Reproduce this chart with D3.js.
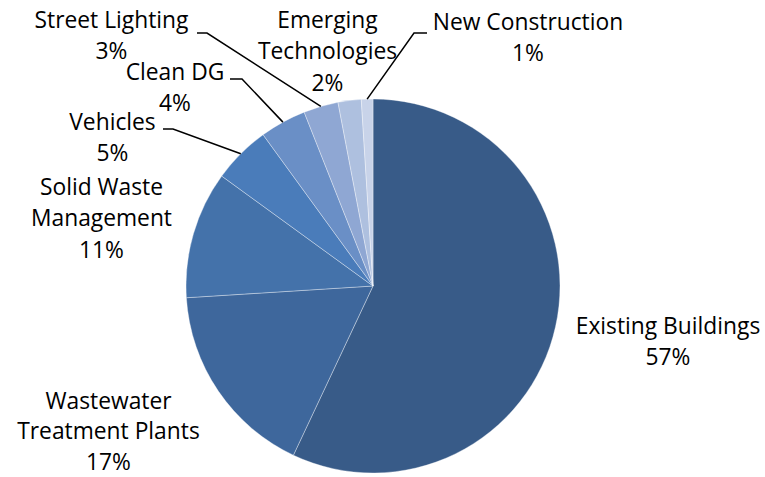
<!DOCTYPE html>
<html>
<head>
<meta charset="utf-8">
<script src="https://cdn.jsdelivr.net/npm/d3@7"></script>
<style>
  html, body { margin: 0; padding: 0; background: #fff; }
  svg { display: block; }
  text { font-family: "Open Sans", "Noto Sans", sans-serif; fill: #000; }
</style>
</head>
<body>
<svg id="chart" width="765" height="477"></svg>
<script>
// Energy savings share by program area
const categories = [
  "Existing Buildings",
  "Wastewater Treatment Plants",
  "Solid Waste Management",
  "Vehicles",
  "Clean DG",
  "Street Lighting",
  "Emerging Technologies",
  "New Construction"
];
const shares = [57, 17, 11, 5, 4, 3, 2, 1];
const colors = ["#385b88", "#3e679c", "#4472aa", "#4a7cba", "#6a8fc6", "#8fa7d3", "#aec0df", "#c8d3e9"];

// Label text lines (name split for wrapping) and where each label block sits
const labelLines = [
  ["Existing Buildings"],
  ["Wastewater", "Treatment Plants"],
  ["Solid Waste", "Management"],
  ["Vehicles"],
  ["Clean DG"],
  ["Street Lighting"],
  ["Emerging", "Technologies"],
  ["New Construction"]
];
const labelAnchor = [
  [668, 326], [108.5, 401], [101.5, 187], [112.5, 122],
  [175, 72], [111.5, 20], [327.5, 20], [528, 22]
];
// Per-label line spacing (the bottom-left block sits a little tighter)
const labelGap = [31.5, 30.5, 31.5, 31.5, 31.5, 31.5, 31.5, 31.5];
// Leader-line start points (label side) and elbow; null = no leader
const leaderStart = [null, null, null, [163, 129], [230, 79], [197, 33], null, [427, 33]];
const leaderElbow = [null, null, null, [173, 129], [242, 79], [207, 33], null, [414, 33]];

const svg = d3.select("#chart");
const cx = 373, cy = 286, r = 187;

const pie = d3.pie().sort(null).value(d => d.v);
const data = pie(categories.map((c, i) => ({ name: c, v: shares[i], i })));
const arc = d3.arc().innerRadius(0).outerRadius(r);

const g = svg.append("g").attr("transform", `translate(${cx},${cy})`);
g.selectAll("path.slice")
  .data(data)
  .join("path")
  .attr("class", "slice")
  .attr("d", arc)
  .attr("fill", d => colors[d.data.i])
  .attr("stroke", "#ffffff")
  .attr("stroke-opacity", 0.5)
  .attr("stroke-width", 0.7);

// Leader lines: label elbow to the slice's mid-angle on the rim
data.forEach(d => {
  const i = d.data.i;
  if (!leaderStart[i]) return;
  const a = (d.startAngle + d.endAngle) / 2;
  const ex = cx + r * Math.sin(a), ey = cy - r * Math.cos(a);
  svg.append("polyline")
    .attr("points", [leaderStart[i], leaderElbow[i], [ex, ey]].map(p => p.join(",")).join(" "))
    .attr("fill", "none")
    .attr("stroke", "#000")
    .attr("stroke-width", 1.5);
});

// Labels: name lines followed by percentage
data.forEach(d => {
  const i = d.data.i;
  const lines = labelLines[i].concat([shares[i] + "%"]);
  const t = svg.append("text")
    .attr("text-anchor", "middle")
    .attr("font-size", 22.8);
  lines.forEach((s, k) => {
    t.append("tspan")
      .attr("x", labelAnchor[i][0])
      .attr("y", labelAnchor[i][1] + k * labelGap[i])
      .attr("dy", "0.35em")
      .text(s);
  });
});
</script>
</body>
</html>
